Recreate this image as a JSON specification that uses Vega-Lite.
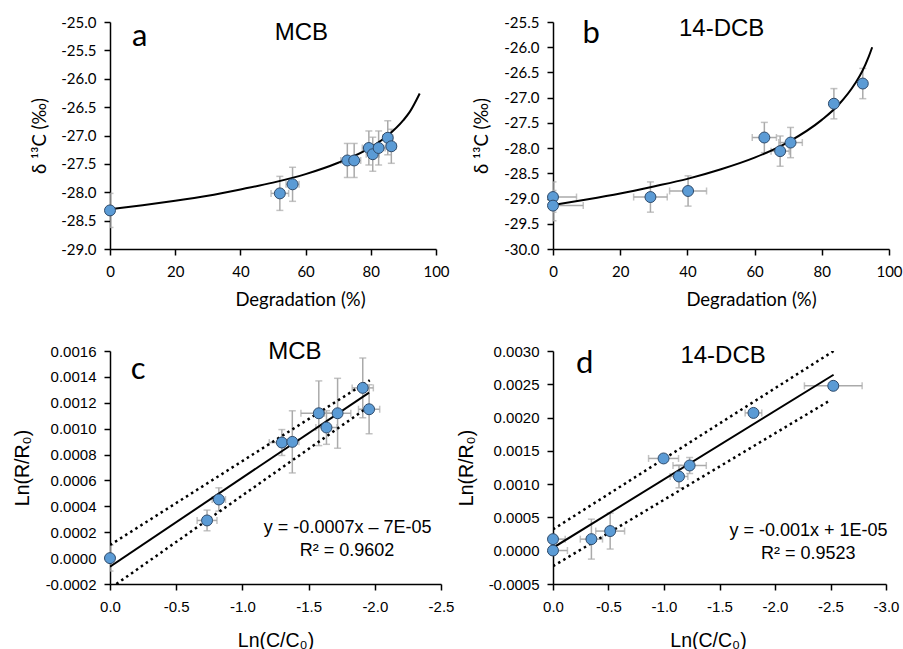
{
  "$schema": "https://vega.github.io/schema/vega-lite/v6.json",
  "padding": {"left": 12, "top": 15, "right": 0, "bottom": 0},
  "background": "white",
  "config": {
    "view": {"stroke": null},
    "axis": {"domainColor": "black", "domainWidth": 1.5, "tickColor": "black", "tickWidth": 1.5, "tickSize": 6, "grid": false, "labelColor": "black", "titleColor": "black", "titleFontWeight": "normal", "labelFlush": false, "labelOverlap": false}
  },
  "datasets": {
    "ptsA": [
      {"x": 0, "y": -28.32, "xe": 0.4, "ye": 0.3},
      {"x": 52.1, "y": -28.02, "xe": 2.7, "ye": 0.3},
      {"x": 56.0, "y": -27.86, "xe": 2.0, "ye": 0.3},
      {"x": 72.8, "y": -27.44, "xe": 2.0, "ye": 0.3},
      {"x": 74.9, "y": -27.44, "xe": 2.0, "ye": 0.3},
      {"x": 79.4, "y": -27.22, "xe": 2.0, "ye": 0.3},
      {"x": 80.6, "y": -27.33, "xe": 2.0, "ye": 0.3},
      {"x": 82.4, "y": -27.22, "xe": 2.0, "ye": 0.3},
      {"x": 85.2, "y": -27.04, "xe": 1.5, "ye": 0.3},
      {"x": 86.3, "y": -27.19, "xe": 1.5, "ye": 0.3}
    ],
    "curveA": [
      {"x": 0, "y": -28.30}, {"x": 10, "y": -28.23}, {"x": 20, "y": -28.15}, {"x": 30, "y": -28.06},
      {"x": 40, "y": -27.95}, {"x": 50, "y": -27.83}, {"x": 60, "y": -27.68}, {"x": 70, "y": -27.48},
      {"x": 80, "y": -27.21}, {"x": 85, "y": -27.01}, {"x": 90, "y": -26.73}, {"x": 92, "y": -26.58},
      {"x": 95, "y": -26.26}
    ],
    "titleA": [{"x": 58.7, "y": -25.31, "t": "MCB"}],
    "letterA": [{"x": 9.1, "y": -25.43, "t": "a"}],
    "ptsB": [
      {"x": 0, "y": -28.97, "xe": 7, "ye": 0.3},
      {"x": 0, "y": -29.14, "xe": 9, "ye": 0.3},
      {"x": 29.0, "y": -28.97, "xe": 5, "ye": 0.3},
      {"x": 40.2, "y": -28.85, "xe": 5.5, "ye": 0.3},
      {"x": 62.9, "y": -27.79, "xe": 3.6, "ye": 0.3},
      {"x": 67.6, "y": -28.06, "xe": 2.7, "ye": 0.3},
      {"x": 70.7, "y": -27.89, "xe": 3.5, "ye": 0.3},
      {"x": 83.6, "y": -27.12, "xe": 1, "ye": 0.3},
      {"x": 92.2, "y": -26.72, "xe": 1, "ye": 0.3}
    ],
    "curveB": [
      {"x": 0, "y": -29.13}, {"x": 10, "y": -29.02}, {"x": 20, "y": -28.90}, {"x": 30, "y": -28.76},
      {"x": 40, "y": -28.61}, {"x": 50, "y": -28.42}, {"x": 60, "y": -28.19}, {"x": 70, "y": -27.88},
      {"x": 80, "y": -27.44}, {"x": 85, "y": -27.14}, {"x": 90, "y": -26.71}, {"x": 92, "y": -26.48},
      {"x": 94, "y": -26.18}, {"x": 95, "y": -26.0}
    ],
    "titleB": [{"x": 50.2, "y": -25.78, "t": "14-DCB"}],
    "letterB": [{"x": 11.4, "y": -25.91, "t": "b"}],
    "ptsC": [
      {"x": 0, "y": 0.0, "xe": 0.02, "ye": 0.0001},
      {"x": -0.733, "y": 0.000291, "xe": 0.075, "ye": 0.00008},
      {"x": -0.822, "y": 0.000453, "xe": 0.05, "ye": 0.00009},
      {"x": -1.298, "y": 0.000893, "xe": 0.095, "ye": 0.0001},
      {"x": -1.377, "y": 0.000898, "xe": 0.05, "ye": 0.00024},
      {"x": -1.577, "y": 0.001119, "xe": 0.135, "ye": 0.00025},
      {"x": -1.635, "y": 0.001009, "xe": 0.08, "ye": 0.00013},
      {"x": -1.719, "y": 0.001119, "xe": 0.1, "ye": 0.00027},
      {"x": -1.909, "y": 0.001315, "xe": 0.08, "ye": 0.00023},
      {"x": -1.957, "y": 0.00115, "xe": 0.08, "ye": 0.00019}
    ],
    "fitC": [{"x": 0, "y": -0.000066}, {"x": -1.957, "y": 0.001279}],
    "bandC": [
      {"x": 0, "y": 0.000101, "s": "upper"}, {"x": -1.962, "y": 0.001374, "s": "upper"},
      {"x": -0.048, "y": -0.0002, "s": "lower"}, {"x": -1.94, "y": 0.00116, "s": "lower"}
    ],
    "titleC": [{"x": -1.397, "y": 0.001536, "t": "MCB"}],
    "letterC": [{"x": -0.213, "y": 0.001381, "t": "c"}],
    "eqC": [
      {"x": -1.795, "y": 0.000191, "t": "y = -0.0007x – 7E-05"},
      {"x": -1.79, "y": 0.000019, "t": "R² = 0.9602"}
    ],
    "ptsD": [
      {"x": 0, "y": 0.000174, "xe": 0.11, "ye": 0.00003},
      {"x": 0, "y": 0.000003, "xe": 0.13, "ye": 0.00003},
      {"x": -0.346, "y": 0.000174, "xe": 0.1, "ye": 0.0003},
      {"x": -0.515, "y": 0.000295, "xe": 0.13, "ye": 0.00027},
      {"x": -0.996, "y": 0.001386, "xe": 0.135, "ye": 0.00005},
      {"x": -1.135, "y": 0.001115, "xe": 0.08, "ye": 0.00017},
      {"x": -1.231, "y": 0.00128, "xe": 0.15, "ye": 0.00012},
      {"x": -1.806, "y": 0.00207, "xe": 0.075, "ye": 0.00005},
      {"x": -2.525, "y": 0.002477, "xe": 0.26, "ye": 0.00004}
    ],
    "fitD": [{"x": 0, "y": 0.000044}, {"x": -2.528, "y": 0.002643}],
    "bandD": [
      {"x": 0, "y": 0.00032, "s": "upper"}, {"x": -2.528, "y": 0.003, "s": "upper"},
      {"x": 0, "y": -0.000233, "s": "lower"}, {"x": -2.504, "y": 0.002266, "s": "lower"}
    ],
    "titleD": [{"x": -1.532, "y": 0.00282, "t": "14-DCB"}],
    "letterD": [{"x": -0.286, "y": 0.00267, "t": "d"}],
    "eqD": [
      {"x": -2.302, "y": 0.00022, "t": "y = -0.001x + 1E-05"},
      {"x": -2.30, "y": -0.000117, "t": "R² = 0.9523"}
    ]
  },
  "columns": 2,
  "align": "none",
  "bounds": "flush",
  "spacing": {"row": 102, "column": 112},
  "concat": [
    {
      "width": 326, "height": 227,
      "encoding": {
        "x": {"field": "x", "type": "quantitative", "scale": {"domain": [0, 100], "nice": false, "zero": false},
              "axis": {"values": [0, 20, 40, 60, 80, 100], "format": "d", "title": "Degradation (%)", "titleX": 190, "labelFont": "Lato", "labelFontSize": 15, "titleFont": "Lato", "titleFontSize": 18.5, "labelPadding": 9, "titlePadding": 11}},
        "y": {"field": "y", "type": "quantitative", "scale": {"domain": [-29, -25], "nice": false, "zero": false},
              "axis": {"values": [-29, -28.5, -28, -27.5, -27, -26.5, -26, -25.5, -25], "labelExpr": "replace(format(datum.value, '.1f'), '\u2212', '-')", "title": "δ ¹³C (‰)", "labelFont": "Lato", "labelFontSize": 15, "titleFont": "Lato, DejaVu Sans", "titleFontSize": 18.5, "labelPadding": 8, "titlePadding": 11}}
      },
      "layer": [
        {"data": {"name": "ptsA"}, "mark": {"type": "errorbar", "ticks": {"size": 7}, "color": "#aaaaaa", "thickness": 1.5, "clip": true}, "encoding": {"yError": {"field": "ye"}}},
        {"data": {"name": "ptsA"}, "mark": {"type": "errorbar", "ticks": {"size": 7}, "color": "#aaaaaa", "thickness": 1.5, "clip": true}, "encoding": {"xError": {"field": "xe"}}},
        {"data": {"name": "curveA"}, "mark": {"type": "line", "color": "black", "strokeWidth": 2, "interpolate": "monotone", "clip": true}, "encoding": {}},
        {"data": {"name": "ptsA"}, "mark": {"type": "circle", "size": 120, "color": "#5b9bd5", "opacity": 1, "stroke": "#2f4b6b", "strokeWidth": 1}},
        {"data": {"name": "titleA"}, "mark": {"type": "text", "font": "Liberation Sans", "fontSize": 24, "align": "center", "baseline": "alphabetic", "color": "black"}, "encoding": {"text": {"field": "t"}}},
        {"data": {"name": "letterA"}, "mark": {"type": "text", "font": "Lato", "fontSize": 31, "align": "center", "baseline": "alphabetic", "color": "black"}, "encoding": {"text": {"field": "t"}}}
      ]
    },
    {
      "width": 336, "height": 227,
      "encoding": {
        "x": {"field": "x", "type": "quantitative", "scale": {"domain": [0, 100], "nice": false, "zero": false},
              "axis": {"values": [0, 20, 40, 60, 80, 100], "format": "d", "title": "Degradation (%)", "titleX": 198, "labelFont": "Lato", "labelFontSize": 15, "titleFont": "Lato", "titleFontSize": 18.5, "labelPadding": 9, "titlePadding": 11}},
        "y": {"field": "y", "type": "quantitative", "scale": {"domain": [-30, -25.5], "nice": false, "zero": false},
              "axis": {"values": [-30, -29.5, -29, -28.5, -28, -27.5, -27, -26.5, -26, -25.5], "labelExpr": "replace(format(datum.value, '.1f'), '\u2212', '-')", "title": "δ ¹³C (‰)", "labelFont": "Lato", "labelFontSize": 15, "titleFont": "Lato, DejaVu Sans", "titleFontSize": 18.5, "labelPadding": 8, "titlePadding": 12}}
      },
      "layer": [
        {"data": {"name": "ptsB"}, "mark": {"type": "errorbar", "ticks": {"size": 7}, "color": "#aaaaaa", "thickness": 1.5, "clip": true}, "encoding": {"yError": {"field": "ye"}}},
        {"data": {"name": "ptsB"}, "mark": {"type": "errorbar", "ticks": {"size": 7}, "color": "#aaaaaa", "thickness": 1.5, "clip": true}, "encoding": {"xError": {"field": "xe"}}},
        {"data": {"name": "curveB"}, "mark": {"type": "line", "color": "black", "strokeWidth": 2, "interpolate": "monotone", "clip": true}, "encoding": {}},
        {"data": {"name": "ptsB"}, "mark": {"type": "circle", "size": 120, "color": "#5b9bd5", "opacity": 1, "stroke": "#2f4b6b", "strokeWidth": 1}},
        {"data": {"name": "titleB"}, "mark": {"type": "text", "font": "Liberation Sans", "fontSize": 24, "align": "center", "baseline": "alphabetic", "color": "black"}, "encoding": {"text": {"field": "t"}}},
        {"data": {"name": "letterB"}, "mark": {"type": "text", "font": "Lato", "fontSize": 31, "align": "center", "baseline": "alphabetic", "color": "black"}, "encoding": {"text": {"field": "t"}}}
      ]
    },
    {
      "width": 331, "height": 233,
      "encoding": {
        "x": {"field": "x", "type": "quantitative", "scale": {"domain": [-2.5, 0], "reverse": true, "nice": false, "zero": false},
              "axis": {"values": [0, -0.5, -1, -1.5, -2, -2.5], "labelExpr": "replace(format(datum.value, '.1f'), '\u2212', '-')", "title": "Ln(C/C₀)", "labelFont": "Liberation Sans", "labelFontSize": 15, "titleFont": "Liberation Sans, DejaVu Sans", "titleFontSize": 19.5, "labelPadding": 9, "titlePadding": 17}},
        "y": {"field": "y", "type": "quantitative", "scale": {"domain": [-0.0002, 0.0016], "nice": false, "zero": false},
              "axis": {"values": [-0.0002, 0, 0.0002, 0.0004, 0.0006, 0.0008, 0.001, 0.0012, 0.0014, 0.0016], "labelExpr": "replace(format(datum.value, '.4f'), '\u2212', '-')", "title": "Ln(R/R₀)", "labelFont": "Liberation Sans", "labelFontSize": 15, "titleFont": "Liberation Sans, DejaVu Sans", "titleFontSize": 19.5, "labelPadding": 8, "titlePadding": 13}}
      },
      "layer": [
        {"data": {"name": "ptsC"}, "mark": {"type": "errorbar", "ticks": {"size": 7}, "color": "#aaaaaa", "thickness": 1.5, "clip": true}, "encoding": {"yError": {"field": "ye"}}},
        {"data": {"name": "ptsC"}, "mark": {"type": "errorbar", "ticks": {"size": 7}, "color": "#aaaaaa", "thickness": 1.5, "clip": true}, "encoding": {"xError": {"field": "xe"}}},
        {"data": {"name": "bandC"}, "mark": {"type": "line", "color": "black", "strokeWidth": 2.5, "strokeDash": [2.5, 3.5], "clip": true}, "encoding": {"detail": {"field": "s"}}},
        {"data": {"name": "fitC"}, "mark": {"type": "line", "color": "black", "strokeWidth": 2, "clip": true}, "encoding": {}},
        {"data": {"name": "ptsC"}, "mark": {"type": "circle", "size": 120, "color": "#5b9bd5", "opacity": 1, "stroke": "#2f4b6b", "strokeWidth": 1}},
        {"data": {"name": "titleC"}, "mark": {"type": "text", "font": "Liberation Sans", "fontSize": 24, "align": "center", "baseline": "alphabetic", "color": "black"}, "encoding": {"text": {"field": "t"}}},
        {"data": {"name": "letterC"}, "mark": {"type": "text", "font": "Lato", "fontSize": 31, "align": "center", "baseline": "alphabetic", "color": "black"}, "encoding": {"text": {"field": "t"}}},
        {"data": {"name": "eqC"}, "mark": {"type": "text", "font": "Liberation Sans", "fontSize": 18, "align": "center", "baseline": "alphabetic", "color": "black"}, "encoding": {"text": {"field": "t"}}}
      ]
    },
    {
      "width": 333, "height": 233,
      "encoding": {
        "x": {"field": "x", "type": "quantitative", "scale": {"domain": [-3, 0], "reverse": true, "nice": false, "zero": false},
              "axis": {"values": [0, -0.5, -1, -1.5, -2, -2.5, -3], "labelExpr": "replace(format(datum.value, '.1f'), '\u2212', '-')", "title": "Ln(C/C₀)", "titleX": 155, "labelFont": "Liberation Sans", "labelFontSize": 15, "titleFont": "Liberation Sans, DejaVu Sans", "titleFontSize": 19.5, "labelPadding": 9, "titlePadding": 17}},
        "y": {"field": "y", "type": "quantitative", "scale": {"domain": [-0.0005, 0.003], "nice": false, "zero": false},
              "axis": {"values": [-0.0005, 0, 0.0005, 0.001, 0.0015, 0.002, 0.0025, 0.003], "labelExpr": "replace(format(datum.value, '.4f'), '\u2212', '-')", "title": "Ln(R/R₀)", "labelFont": "Liberation Sans", "labelFontSize": 15, "titleFont": "Liberation Sans, DejaVu Sans", "titleFontSize": 19.5, "labelPadding": 8, "titlePadding": 12}}
      },
      "layer": [
        {"data": {"name": "ptsD"}, "mark": {"type": "errorbar", "ticks": {"size": 7}, "color": "#aaaaaa", "thickness": 1.5, "clip": true}, "encoding": {"yError": {"field": "ye"}}},
        {"data": {"name": "ptsD"}, "mark": {"type": "errorbar", "ticks": {"size": 7}, "color": "#aaaaaa", "thickness": 1.5, "clip": true}, "encoding": {"xError": {"field": "xe"}}},
        {"data": {"name": "bandD"}, "mark": {"type": "line", "color": "black", "strokeWidth": 2.5, "strokeDash": [2.5, 3.5], "clip": true}, "encoding": {"detail": {"field": "s"}}},
        {"data": {"name": "fitD"}, "mark": {"type": "line", "color": "black", "strokeWidth": 2, "clip": true}, "encoding": {}},
        {"data": {"name": "ptsD"}, "mark": {"type": "circle", "size": 120, "color": "#5b9bd5", "opacity": 1, "stroke": "#2f4b6b", "strokeWidth": 1}},
        {"data": {"name": "titleD"}, "mark": {"type": "text", "font": "Liberation Sans", "fontSize": 24, "align": "center", "baseline": "alphabetic", "color": "black"}, "encoding": {"text": {"field": "t"}}},
        {"data": {"name": "letterD"}, "mark": {"type": "text", "font": "Lato", "fontSize": 31, "align": "center", "baseline": "alphabetic", "color": "black"}, "encoding": {"text": {"field": "t"}}},
        {"data": {"name": "eqD"}, "mark": {"type": "text", "font": "Liberation Sans", "fontSize": 18, "align": "center", "baseline": "alphabetic", "color": "black"}, "encoding": {"text": {"field": "t"}}}
      ]
    }
  ]
}
